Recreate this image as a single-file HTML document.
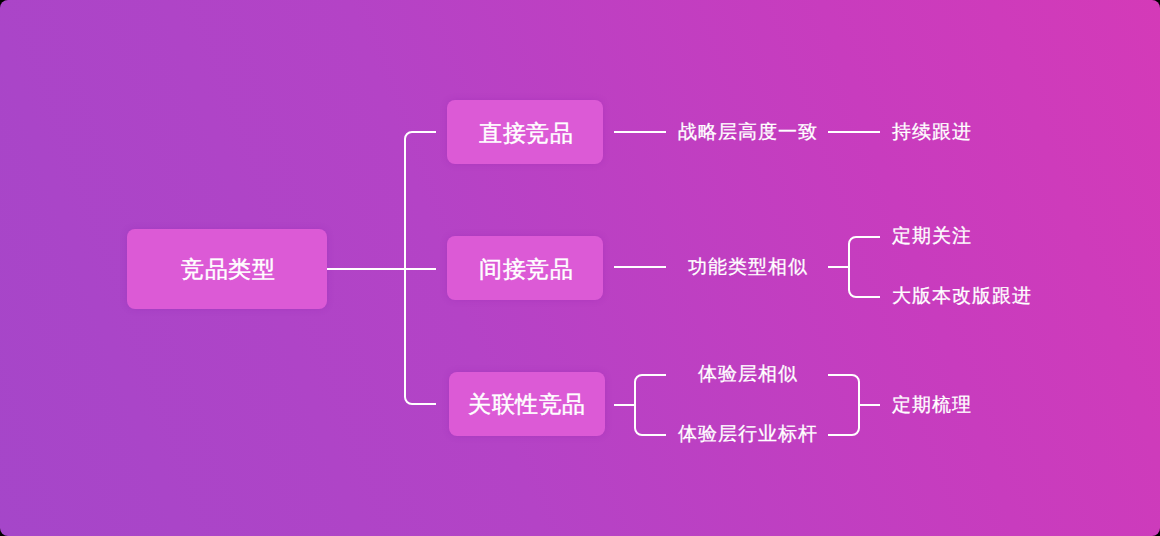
<!DOCTYPE html>
<html><head><meta charset="utf-8">
<style>
html,body{margin:0;padding:0;width:1160px;height:536px;background:#000;overflow:hidden}
#bg{position:absolute;left:0;top:0;width:1160px;height:536px;border-radius:8px;overflow:hidden;
background:linear-gradient(70deg,#A546C9 0%,#B443C6 40%,#C83CBE 75%,#D43AB8 100%);}
.box{position:absolute;background:#DC5AD6;border-radius:8px;box-shadow:0 0 6px rgba(140,30,170,0.26)}
.t{position:absolute;color:#fff;font-family:"Liberation Sans",sans-serif;white-space:nowrap;line-height:1}
.t24{font-size:23px;letter-spacing:0.6px;-webkit-text-stroke:0.45px #fff}
.t20{font-size:19px;letter-spacing:1px;-webkit-text-stroke:0.28px #fff}
svg{position:absolute;left:0;top:0}
</style></head><body>
<div id="bg">
<div class="box" style="left:127px;top:229px;width:200px;height:80px"></div>
<div class="box" style="left:447px;top:100px;width:156px;height:64px"></div>
<div class="box" style="left:447px;top:236px;width:156px;height:64px"></div>
<div class="box" style="left:449px;top:372px;width:156px;height:64px"></div>

<svg width="1160" height="536" viewBox="0 0 1160 536" fill="none" stroke="#fff" stroke-width="2">
<path d="M327 269H436"/>
<path d="M436 132H412A7 7 0 0 0 405 139V397A7 7 0 0 0 412 404H436"/>
<path d="M614 132H666"/>
<path d="M828 132H880"/>
<path d="M614 267H666"/>
<path d="M828 267H849"/>
<path d="M880 237H856A7 7 0 0 0 849 244V290A7 7 0 0 0 856 297H880"/>
<path d="M614 405H635"/>
<path d="M666 375H642A7 7 0 0 0 635 382V428A7 7 0 0 0 642 435H666"/>
<path d="M828 375H852A7 7 0 0 1 859 382V428A7 7 0 0 1 852 435H828"/>
<path d="M859 405H880"/>
</svg>

<div class="t t24" style="left:181px;top:258px">竞品类型</div>
<div class="t t24" style="left:479px;top:122px">直接竞品</div>
<div class="t t24" style="left:479px;top:258px">间接竞品</div>
<div class="t t24" style="left:468px;top:393px">关联性竞品</div>

<div class="t t20" style="left:678px;top:122px">战略层高度一致</div>
<div class="t t20" style="left:892px;top:122px">持续跟进</div>
<div class="t t20" style="left:688px;top:257px">功能类型相似</div>
<div class="t t20" style="left:892px;top:226px">定期关注</div>
<div class="t t20" style="left:892px;top:286px">大版本改版跟进</div>
<div class="t t20" style="left:698px;top:364px">体验层相似</div>
<div class="t t20" style="left:678px;top:424px">体验层行业标杆</div>
<div class="t t20" style="left:892px;top:395px">定期梳理</div>
</div>
</body></html>
